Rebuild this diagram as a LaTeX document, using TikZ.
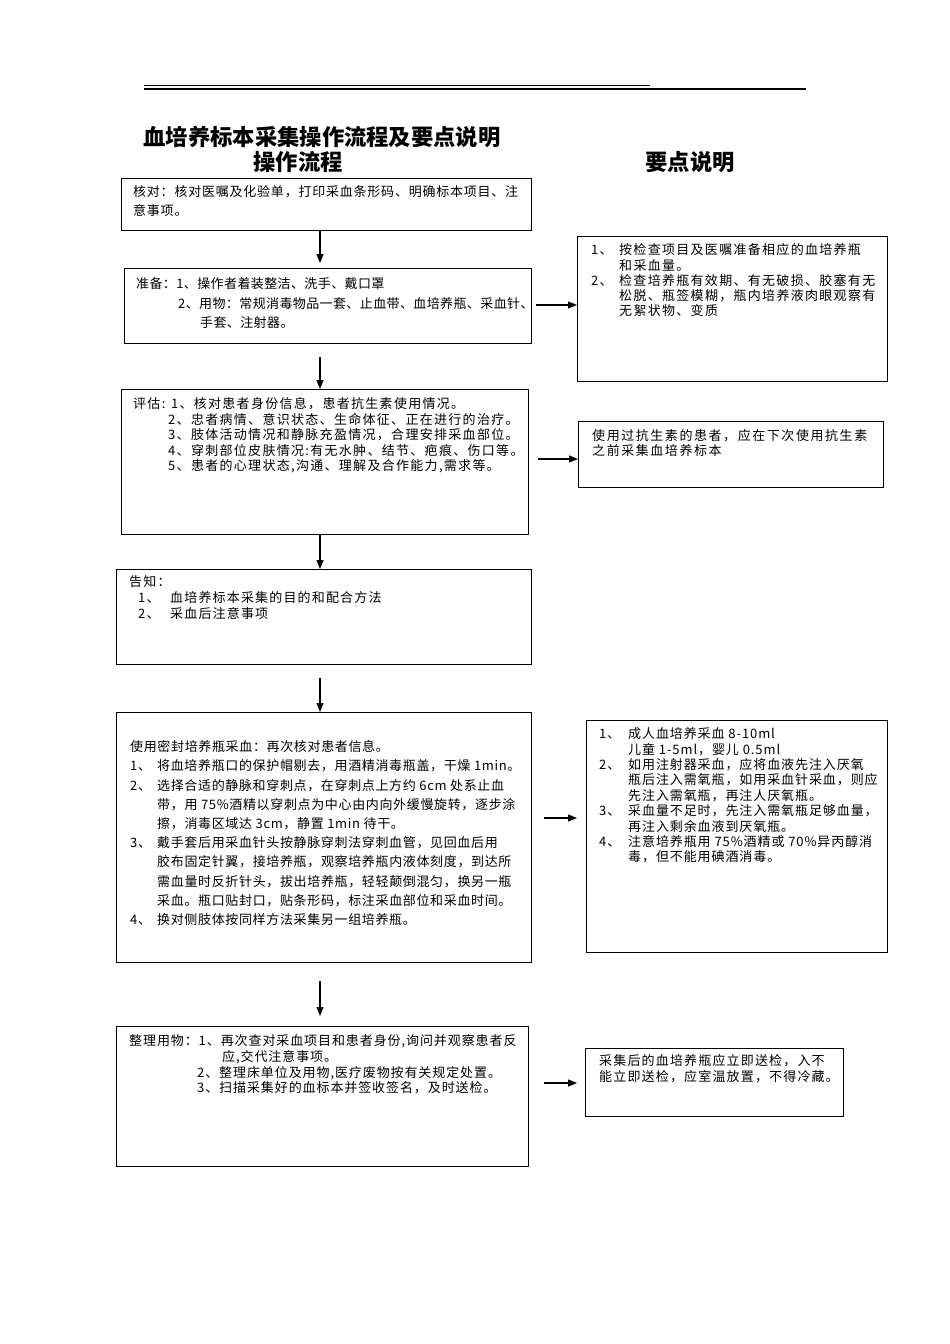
\documentclass[tikz,border=0pt]{standalone}
\usepackage{fontspec}
\setmainfont{Noto Sans CJK SC}
\usetikzlibrary{arrows.meta}
\tikzset{
  box/.style={draw, line width=1.1pt, inner sep=0pt, anchor=north west},
  txt/.style={anchor=north west, inner sep=0pt, align=left},
  arr/.style={line width=1.1pt, -{Triangle[length=9pt,width=7pt]}},
  ttl/.style={font=\fontsize{22.3}{22.3}\selectfont\bfseries, inner sep=0pt}
}
\newcommand{\fs}[2]{\fontsize{13}{#1}\selectfont\addfontfeatures{LetterSpace=#2}}
\begin{document}
\begin{tikzpicture}[x=1pt,y=-1pt]
\useasboundingbox (0,0) rectangle (950,1344);
\fill[white] (0,0) rectangle (950,1344);
% top rules
\draw[line width=0.8pt] (144,85) -- (650,85);
\draw[line width=1.6pt] (144,89) -- (806,89);
% titles
\node[ttl] (title) at (322,137) {血培养标本采集操作流程及要点说明};
\node[ttl] (hl) at (298,162) {操作流程};
\node[ttl] (hr) at (690,162) {要点说明};
% left boxes
\node[box, minimum width=410pt, minimum height=52pt] (b1) at (121,178) {};
\node[box, minimum width=407pt, minimum height=75pt] (b2) at (124,268) {};
\node[box, minimum width=407pt, minimum height=145pt] (b3) at (121,389) {};
\node[box, minimum width=415pt, minimum height=95pt] (b4) at (116,569) {};
\node[box, minimum width=415pt, minimum height=250pt] (b5) at (116,712) {};
\node[box, minimum width=412pt, minimum height=140pt] (b6) at (116,1026) {};
% right boxes
\node[box, minimum width=310pt, minimum height=145pt] (r1) at (577,236) {};
\node[box, minimum width=305pt, minimum height=66pt] (r2) at (578,421) {};
\node[box, minimum width=301pt, minimum height=232pt] (r3) at (586,720) {};
\node[box, minimum width=258pt, minimum height=68pt] (r4) at (585,1048) {};
% texts
\node[txt, font={\fs{19}{6}}] (t1) at (133,185.5) {核对：核对医嘱及化验单，打印采血条形码、明确标本项目、注\\意事项。};
\node[txt, font={\fs{19.5}{3}}] (t2) at (136,277.5) {准备：1、操作者着装整洁、洗手、戴口罩\\
\hspace*{42pt}2、用物：常规消毒物品一套、止血带、血培养瓶、采血针、\\
\hspace*{64pt}手套、注射器。};
\node[txt, font={\fs{15.5}{10}}] (t3) at (133,397.5) {评估: 1、核对患者身份信息，患者抗生素使用情况。\\
\hspace*{35pt}2、忠者病情、意识状态、生命体征、正在进行的治疗。\\
\hspace*{35pt}3、肢体活动情况和静脉充盈情况，合理安排采血部位。\\
\hspace*{35pt}4、穿刺部位皮肤情况:有无水肿、结节、疤痕、伤口等。\\
\hspace*{35pt}5、患者的心理状态,沟通、理解及合作能力,需求等。};
\node[txt, font={\fs{16}{9}}] (t4) at (129,575.5) {告知：\\
\hspace*{9pt}\makebox[32pt][l]{1、}血培养标本采集的目的和配合方法\\
\hspace*{9pt}\makebox[32pt][l]{2、}采血后注意事项};
\node[txt, font={\fs{19.2}{5}}] (t5) at (130,740.5) {使用密封培养瓶采血：再次核对患者信息。\\
\makebox[27pt][l]{1、}将血培养瓶口的保护帽剔去，用酒精消毒瓶盖，干燥 1min。\\
\makebox[27pt][l]{2、}选择合适的静脉和穿刺点，在穿刺点上方约 6cm 处系止血\\
\hspace*{27pt}带，用 75\%酒精以穿刺点为中心由内向外缓慢旋转，逐步涂\\
\hspace*{27pt}擦，消毒区域达 3cm，静置 1min 待干。\\
\makebox[27pt][l]{3、}戴手套后用采血针头按静脉穿刺法穿刺血管，见回血后用\\
\hspace*{27pt}胶布固定针翼，接培养瓶，观察培养瓶内液体刻度，到达所\\
\hspace*{27pt}需血量时反折针头，拔出培养瓶，轻轻颠倒混匀，换另一瓶\\
\hspace*{27pt}采血。瓶口贴封口，贴条形码，标注采血部位和采血时间。\\
\makebox[27pt][l]{4、}换对侧肢体按同样方法采集另一组培养瓶。};
\node[txt, font={\fs{15.7}{7}}] (t6) at (129,1034.5) {整理用物：1、再次查对采血项目和患者身份,询问并观察患者反\\
\hspace*{93pt}应,交代注意事项。\\
\hspace*{68pt}2、整理床单位及用物,医疗废物按有关规定处置。\\
\hspace*{68pt}3、扫描采集好的血标本并签收签名，及时送检。};
\node[txt, font={\fs{15.3}{10}}] (s1) at (591,243.5) {\makebox[28pt][l]{1、}按检查项目及医嘱准备相应的血培养瓶\\
\hspace*{28pt}和采血量。\\
\makebox[28pt][l]{2、}检查培养瓶有效期、有无破损、胶塞有无\\
\hspace*{28pt}松脱、瓶签模糊，瓶内培养液肉眼观察有\\
\hspace*{28pt}无絮状物、变质};
\node[txt, font={\fs{15}{12}}] (s2) at (592,429.5) {使用过抗生素的患者，应在下次使用抗生素\\之前采集血培养标本};
\node[txt, font={\fs{15.4}{7}}] (s3) at (599,727.5) {\makebox[29pt][l]{1、}成人血培养采血 8-10ml\\
\hspace*{29pt}儿童 1-5ml，婴儿 0.5ml\\
\makebox[29pt][l]{2、}如用注射器采血，应将血液先注入厌氧\\
\hspace*{29pt}瓶后注入需氧瓶，如用采血针采血，则应\\
\hspace*{29pt}先注入需氧瓶，再注人厌氧瓶。\\
\makebox[29pt][l]{3、}采血量不足时，先注入需氧瓶足够血量，\\
\hspace*{29pt}再注入剩余血液到厌氧瓶。\\
\makebox[29pt][l]{4、}注意培养瓶用 75\%酒精或 70\%异丙醇消\\
\hspace*{29pt}毒，但不能用碘酒消毒。};
\node[txt, font={\fs{16}{9}}] (s4) at (599,1054.5) {采集后的血培养瓶应立即送检，入不\\能立即送检，应室温放置，不得冷藏。};
% connectors
\coordinate (ax) at (320,0);
\draw[arr, shorten >=5pt] (b1.south -| ax) -- (b2.north -| ax);
\draw[arr, shorten <=13pt] (b2.south -| ax) -- (b3.north -| ax);
\draw[arr] (b3.south -| ax) -- (b4.north -| ax);
\draw[arr, shorten <=13pt] (b4.south -| ax) -- (b5.north -| ax);
\draw[arr, shorten <=18pt, shorten >=10pt] (b5.south -| ax) -- (b6.north -| ax);
\draw[arr, shorten <=4pt] (b2.east |- 0,305) -- (r1.west |- 0,305);
\draw[arr, shorten <=9pt] (b3.east |- 0,459) -- (r2.west |- 0,459);
\draw[arr, shorten <=12pt, shorten >=9pt] (b5.east |- 0,818) -- (r3.west |- 0,818);
\draw[arr, shorten <=15pt, shorten >=8pt] (b6.east |- 0,1083) -- (r4.west |- 0,1083);
\end{tikzpicture}
\end{document}
